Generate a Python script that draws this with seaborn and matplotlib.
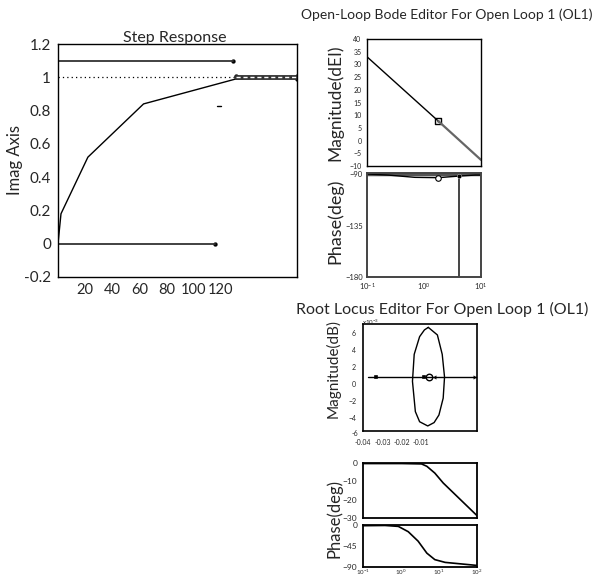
import numpy as np
import pandas as pd
import matplotlib
matplotlib.use("Agg")
import matplotlib.pyplot as plt
import seaborn as sns

# ---- step response data ----
step_t = [0, 2.2, 22, 63, 131, 176]
step_y = [0, 0.18, 0.52, 0.84, 0.99, 1.0]
upper_t = [0, 129]
upper_y = [1.1, 1.1]
lower_t = [0, 115.5]
lower_y = [0, 0]
final_t = [0, 130]
final_y = [1, 1]
settle_t = [131, 176]
settle_y = [1, 1]
dash_t = [117, 120]
dash_y = [0.83, 0.83]
step_xticks = [20, 40, 60, 80, 100, 120]
step_yticks = [-0.2, 0, 0.2, 0.4, 0.6, 0.8, 1, 1.2]
step_yticklabels = ["-0.2", "0", "0.2", "0.4", "0.6", "0.8", "1", "1.2"]

# ---- open-loop bode ----
bode_f = [0.1, 1.78, 10]
bode_mag = [33, 7.7, -7.6]
bode_pf = [0.1, 0.234, 0.69, 1.78, 4.07, 7.9, 10]
bode_phase = [-89.9, -90.8, -92.8, -93.1, -91.7, -90.8, -90.8]
gm_f = [4.07, 4.07]
gm_phase = [-91.7, -179]
mag_yticks = [-10, -5, 0, 5, 10, 15, 20, 25, 30, 35, 40]
phase_yticks = [-180, -135, -90]

# ---- root locus ----
rl_axis_x = [-0.0375, 0.019]
rl_axis_y = [0.8, 0.8]
loc_x = [-0.0062, -0.0015, 0.001, 0.0022, 0.0015, -0.0007, -0.0032, -0.0065,
         -0.0107, -0.0129, -0.0144, -0.0135, -0.0107, -0.0082, -0.0062]
loc_y = [6.7, 5.8, 3.5, 0.8, -1.7, -3.7, -4.6, -5.0,
         -4.5, -3.3, 0.3, 3.5, 5.6, 6.4, 6.7]
pole_x = [-0.0335, -0.0085]
pole_y = [0.8, 0.8]
zero_x = [-0.006]
zero_y = [0.8]
arrow_l = [-0.003]
arrow_r = [0.018]
rl_xticks = [-0.04, -0.03, -0.02, -0.01]
rl_yticks = [-4, -2, 0, 2, 4, 6]

# ---- closed-loop bode ----
cl_f1 = [0.1, 1.05, 3.47, 4.79, 7.76, 12.9, 100]
cl_p1 = [-0.3, -0.3, -0.5, -1.8, -5.5, -10.9, -28.7]
cl_f2 = [0.1, 0.38, 0.85, 1.55, 2.82, 4.79, 7.76, 14.5, 100]
cl_p2 = [-0.5, 0, -2, -13.5, -34, -60, -74, -80, -86.6]

sns.set_style("white")
plt.rcParams['font.family'] = ['Lato', 'DejaVu Sans']

W, H = 595, 578
fig = plt.figure(figsize=(W / 100, H / 100), dpi=100)


def box(l, t, r, b):
    return fig.add_axes([l / W, 1 - b / H, (r - l) / W, (b - t) / H])


def frame(ax, color="black", lw=1.0):
    for s in ax.spines.values():
        s.set_visible(True)
        s.set_color(color)
        s.set_linewidth(lw)


def line(ax, x, y, **kw):
    sns.lineplot(x=x, y=y, ax=ax, sort=False, estimator=None, **kw)


# step response
ax = box(58, 44, 297, 277)
line(ax, step_t, step_y, color="black", lw=1)
line(ax, upper_t, upper_y, color="#333333", lw=1.3)
line(ax, lower_t, lower_y, color="#333333", lw=1.3)
line(ax, final_t, final_y, color="black", lw=0.9, linestyle=(0, (1, 2.5)))
line(ax, settle_t, settle_y, color="#333333", lw=3.5)
line(ax, settle_t, settle_y, color="white", lw=1, linestyle=(0, (3, 2)))
line(ax, dash_t, dash_y, color="black", lw=1)
sns.scatterplot(x=[upper_t[1], lower_t[1], settle_t[0], settle_t[1], settle_t[1]],
                y=[upper_y[1], lower_y[1], 1.01, 1.01, 0.99], ax=ax,
                color="black", s=8, edgecolor="black")
ax.set_xlim(0, 176)
ax.set_ylim(-0.2, 1.2)
ax.set_xticks(step_xticks)
ax.set_yticks(step_yticks)
ax.set_yticklabels(step_yticklabels)
ax.tick_params(axis="x", length=0, labelsize=10.5, pad=4)
ax.tick_params(axis="y", length=0, labelsize=11, pad=5)
frame(ax)

fig.text(175 / W, 1 - 38 / H, "Step Response", ha="center", va="center", fontsize=11.5)
fig.text(15 / W, 1 - 160 / H, "Imag Axis", ha="center", va="center", rotation=90, fontsize=12)

# open-loop bode magnitude
ax = box(367, 39, 481, 166)
line(ax, bode_f[:2], bode_mag[:2], color="black", lw=1)
line(ax, bode_f[1:], bode_mag[1:], color="#666666", lw=1.6)
sns.scatterplot(x=[bode_f[1]], y=[bode_mag[1]], ax=ax, marker="s", s=22,
                facecolor="white", edgecolor="black", linewidth=1)
sns.scatterplot(x=[bode_f[1]], y=[bode_mag[1]], ax=ax, marker="o", s=3, color="black")
ax.set_xscale("log")
ax.set_xlim(0.1, 10)
ax.set_ylim(-10, 40)
ax.set_yticks(mag_yticks)
ax.set_xticks([])
ax.minorticks_off()
ax.tick_params(length=0, labelsize=5, pad=4)
frame(ax)

# open-loop bode phase
ax = box(367, 173, 481, 277)
line(ax, [0.1, 10], [-89.5, -89.5], color="#555555", lw=2.5)
line(ax, bode_pf, bode_phase, color="black", lw=1)
line(ax, gm_f, gm_phase, color="#444444", lw=1.4)
sns.scatterplot(x=[bode_pf[3]], y=[bode_phase[3]], ax=ax, marker="o", s=16,
                facecolor="white", edgecolor="black", linewidth=0.8, zorder=5)
sns.scatterplot(x=[bode_pf[4]], y=[bode_phase[4]], ax=ax, marker="o", s=10,
                color="black", zorder=5)
ax.set_xscale("log")
ax.set_xlim(0.1, 10)
ax.set_ylim(-180, -89)
ax.set_yticks(phase_yticks)
ax.set_xticks([0.1, 1, 10])
ax.set_xticklabels([r"$\mathregular{10^{-1}}$", r"$\mathregular{10^{0}}$", r"$\mathregular{10^{1}}$"])
ax.minorticks_off()
ax.tick_params(length=0, labelsize=5.5, pad=3)
frame(ax, "#444444", 1.4)

fig.text(447 / W, 1 - 15 / H, "Open-Loop Bode Editor For Open Loop 1 (OL1)",
         ha="center", va="center", fontsize=10)
fig.text(335 / W, 1 - 103 / H, "Magnitude(dEI)", ha="center", va="center",
         rotation=90, fontsize=12.5)
fig.text(335 / W, 1 - 221 / H, "Phase(deg)", ha="center", va="center",
         rotation=90, fontsize=13)

# root locus
ax = box(363, 324, 477, 431)
line(ax, rl_axis_x, rl_axis_y, color="black", lw=1)
line(ax, loc_x, loc_y, color="black", lw=1)
sns.scatterplot(x=pole_x, y=pole_y, ax=ax, marker="s", s=10, color="black")
sns.scatterplot(x=zero_x, y=zero_y, ax=ax, marker="o", s=22,
                facecolor="white", edgecolor="black", linewidth=1)
sns.scatterplot(x=arrow_l, y=[0.8], ax=ax, marker="<", s=10, color="black")
sns.scatterplot(x=arrow_r, y=[0.8], ax=ax, marker=">", s=10, color="black")
ax.set_xlim(-0.0375, 0.019)
ax.set_ylim(-5.6, 7.1)
ax.set_xticks(rl_xticks)
ax.set_xticklabels(["-0.04", "-0.03", "-0.02", "-0.01"])
ax.set_yticks(rl_yticks)
ax.tick_params(axis="y", length=0, labelsize=5, pad=5)
ax.tick_params(axis="x", length=0, labelsize=5, pad=6)
frame(ax, "black", 1.2)
# the -6 label sits just below the frame, outside the view limits
ax.text(-0.045, -5.85, "-6", transform=ax.get_yaxis_transform(), ha="right",
        va="center", fontsize=5)

fig.text(442 / W, 1 - 309 / H, "Root Locus Editor For Open Loop 1 (OL1)",
         ha="center", va="center", fontsize=11.5)
fig.text(362 / W, 1 - 322 / H, r"x10$^{\mathregular{-3}}$", ha="left", va="center", fontsize=4.5)
fig.text(333 / W, 1 - 368 / H, "Magnitude(dB)", ha="center", va="center",
         rotation=90, fontsize=11)

# closed-loop phase panels
ax = box(363, 463, 477, 518)
line(ax, cl_f1, cl_p1, color="black", lw=1.2)
ax.set_xscale("log")
ax.set_xlim(0.1, 100)
ax.set_ylim(-30, 0)
ax.set_yticks([-30, -20, -10, 0])
ax.set_xticks([])
ax.minorticks_off()
ax.tick_params(length=0, labelsize=6, pad=4)
frame(ax, "black", 1.3)

ax = box(363, 525, 477, 567)
line(ax, cl_f2, cl_p2, color="black", lw=1.2)
ax.set_xscale("log")
ax.set_xlim(0.1, 100)
ax.set_ylim(-90, 1)
ax.set_yticks([-90, -45, 0])
ax.set_xticks([0.1, 1, 10, 100])
ax.set_xticklabels([r"$\mathregular{10^{-1}}$", r"$\mathregular{10^{0}}$",
                    r"$\mathregular{10^{1}}$", r"$\mathregular{10^{2}}$"])
ax.minorticks_off()
ax.tick_params(axis="y", length=0, labelsize=6, pad=4)
ax.tick_params(axis="x", length=0, labelsize=4.5, pad=0.5)
frame(ax, "black", 1.3)

fig.text(334 / W, 1 - 519 / H, "Phase(deg)", ha="center", va="center",
         rotation=90, fontsize=12)

fig.savefig("out.png", dpi=100)
